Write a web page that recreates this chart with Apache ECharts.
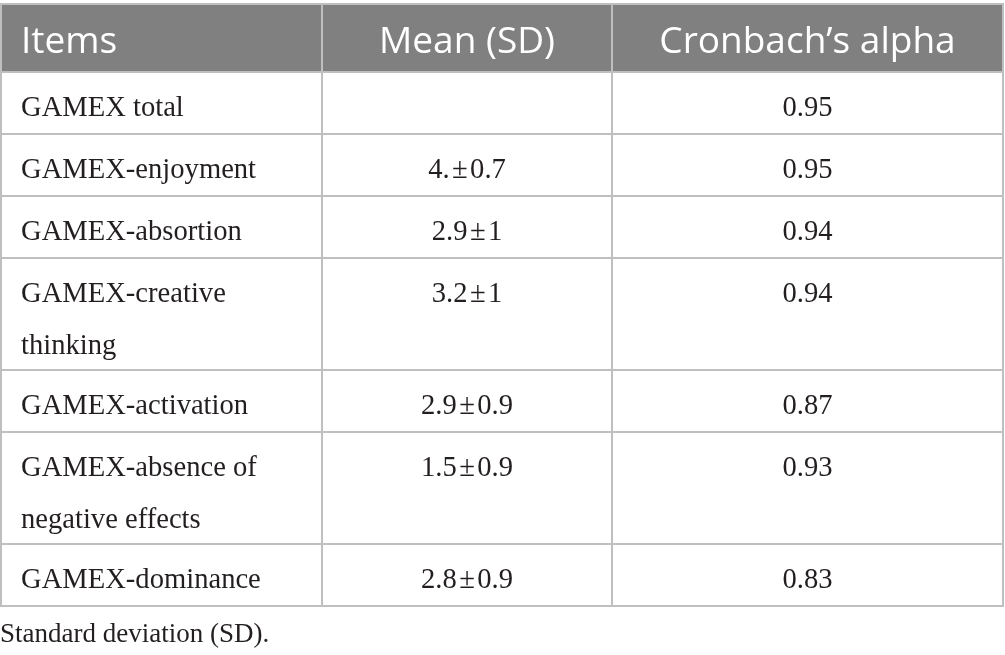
<!DOCTYPE html>
<html>
<head>
<meta charset="utf-8">
<script src="https://cdn.jsdelivr.net/npm/echarts@6/dist/echarts.min.js"></script>
<style>
  html, body { margin: 0; padding: 0; background: #ffffff; }
  #chart { width: 1005px; height: 655px; }
</style>
</head>
<body>
<div id="chart"></div>
<script>
// ---- table content ----
const headers = ['Items', 'Mean (SD)', 'Cronbach\u2019s alpha'];
const items = [
  'GAMEX total',
  'GAMEX-enjoyment',
  'GAMEX-absortion',
  'GAMEX-creative\nthinking',
  'GAMEX-activation',
  'GAMEX-absence of\nnegative effects',
  'GAMEX-dominance'
];
const means = ['', '4.\u200a\u00b1\u200a0.7', '2.9\u200a\u00b1\u200a1', '3.2\u200a\u00b1\u200a1', '2.9\u200a\u00b1\u200a0.9', '1.5\u200a\u00b1\u200a0.9', '2.8\u200a\u00b1\u200a0.9'];
const alphas = ['0.95', '0.95', '0.94', '0.94', '0.87', '0.93', '0.83'];
const footnote = 'Standard deviation (SD).';

// ---- layout (styles, not data) ----
const HEADER_H = 68, ROW_H = 62, EXTRA_LINE_H = 50;
const colEdges = [0, 321, 611, 1002];
const columns = [items, means, alphas];

const rowEdges = [0, HEADER_H];
items.forEach(function (t) {
  const lines = Math.max(t.split('\n').length, 1);
  rowEdges.push(rowEdges[rowEdges.length - 1] + ROW_H + (lines - 1) * EXTRA_LINE_H);
});
const totalH = rowEdges[rowEdges.length - 1];

const cells = [];
for (let r = 0; r <= items.length; r++) {
  for (let c = 0; c < headers.length; c++) cells.push([c, r]);
}

const SERIF = '"Liberation Serif", "Times New Roman", serif';
const SANS = '"Open Sans", "Noto Sans", sans-serif';

function renderCell(params, api) {
  const c = api.value(0), r = api.value(1);
  const p0 = api.coord([colEdges[c], rowEdges[r]]);
  const p1 = api.coord([colEdges[c + 1], rowEdges[r + 1]]);
  const isHeader = r === 0;
  const text = isHeader ? headers[c] : columns[c][r - 1];
  const children = [{
    type: 'rect',
    shape: { x: p0[0], y: p0[1], width: p1[0] - p0[0], height: p1[1] - p0[1] },
    style: { fill: isHeader ? '#808080' : '#ffffff', stroke: '#bfbfbf', lineWidth: 2 },
    z2: isHeader ? 1 : 0
  }];
  const align = c === 0 ? 'left' : 'center';
  const tx = c === 0 ? p0[0] + 20 : (p0[0] + p1[0]) / 2;
  if (isHeader) {
    children.push({
      type: 'text',
      z2: 5,
      style: {
        text: text, x: tx, y: (p0[1] + p1[1]) / 2 + 4,
        align: align, verticalAlign: 'middle',
        font: '37px ' + SANS, fill: '#ffffff'
      }
    });
  } else {
    children.push({
      type: 'text',
      z2: 5,
      style: {
        text: text, x: tx, y: p0[1] + 10,
        align: align, verticalAlign: 'top', lineHeight: 52,
        font: '28.6px ' + SERIF, fill: '#231f20'
      }
    });
  }
  return { type: 'group', children: children };
}

const chart = echarts.init(document.getElementById('chart'), null, { renderer: 'canvas' });
chart.setOption({
  animation: false,
  backgroundColor: '#ffffff',
  title: {
    text: footnote,
    left: -5,
    top: 616,
    textStyle: { fontFamily: SERIF, fontSize: 27, fontWeight: 'normal', color: '#231f20' }
  },
  grid: { left: 1, right: 2, top: 4, height: totalH },
  xAxis: { type: 'value', min: 0, max: colEdges[colEdges.length - 1], show: false },
  yAxis: { type: 'value', min: 0, max: totalH, inverse: true, show: false },
  series: [{
    type: 'custom',
    renderItem: renderCell,
    data: cells,
    encode: { x: 0, y: 1 },
    silent: true,
    clip: false
  }]
});
</script>
</body>
</html>
